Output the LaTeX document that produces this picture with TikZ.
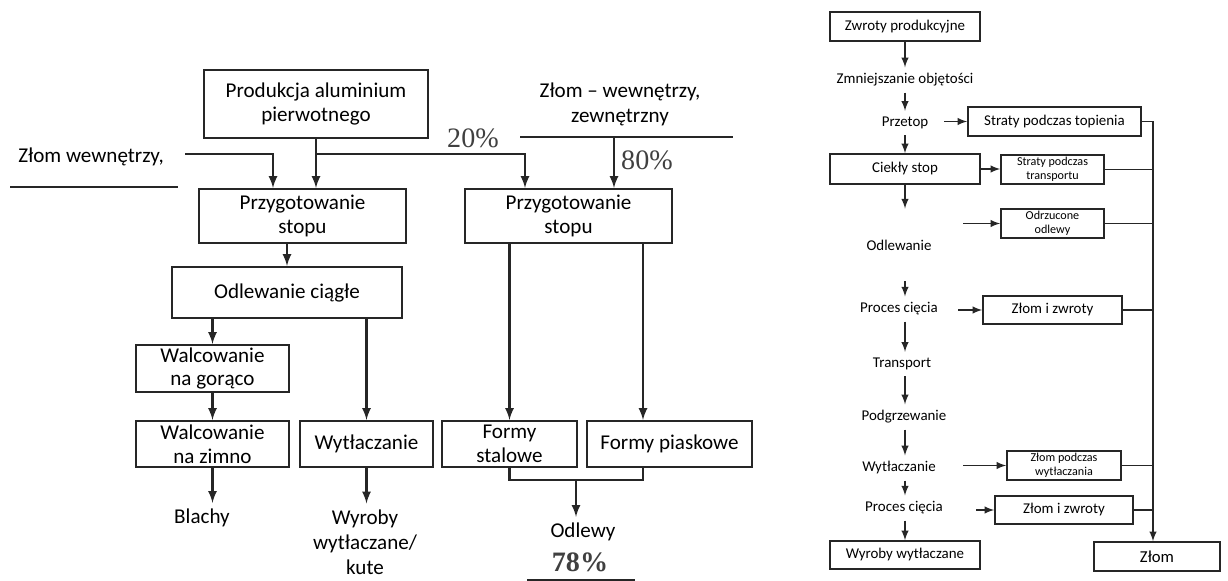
\documentclass[tikz,border=0pt]{standalone}
\usepackage{fontspec}
\setmainfont{Carlito}
\newfontfamily\pctfont{Liberation Serif}
\usepackage{tikz}
\usetikzlibrary{arrows}
\tikzstyle{bigbox} = [rectangle, draw=black!85, line width=1.2pt, text centered, align=center, inner sep=1pt, font=\fontsize{12}{13.6}\selectfont]
\tikzstyle{bigtext} = [align=center, font=\fontsize{12}{14.2}\selectfont]
\tikzstyle{pct} = [text=black!75, font=\pctfont\fontsize{16}{18}\selectfont]
\tikzstyle{arrow} = [line width=1.3pt, draw=black!85, ->, >=latex]
\tikzstyle{wire} = [line width=1.3pt, draw=black!85]
\tikzstyle{smallbox} = [rectangle, draw=black!85, line width=0.9pt, text centered, align=center, inner sep=1pt, font=\fontsize{8.5}{10}\selectfont]
\tikzstyle{tinybox} = [smallbox, font=\fontsize{6.9}{8}\selectfont]
\tikzstyle{smalltext} = [font=\fontsize{8.5}{10}\selectfont]
\tikzstyle{arrow2} = [line width=0.9pt, draw=black!85, ->, >=latex]
\tikzstyle{wire2} = [line width=0.9pt, draw=black!85]
\begin{document}
\begin{tikzpicture}[x=0.02cm, y=-0.02cm]
\useasboundingbox (0,0) rectangle (1228,581);

% left diagram
\node (prod) [bigbox, minimum width=4.48cm, minimum height=1.36cm] at (316,104) {Produkcja aluminium\\pierwotnego};
\node (prz1) [bigbox, minimum width=4.14cm, minimum height=1.08cm] at (302.5,216) {Przygotowanie\\stopu};
\node (prz2) [bigbox, minimum width=4.14cm, minimum height=1.08cm] at (568.5,216) {Przygotowanie\\stopu};
\node (odl) [bigbox, minimum width=4.6cm, minimum height=1.02cm] at (287,292.5) {Odlewanie ciągłe};
\node (wgor) [bigbox, minimum width=3.06cm, minimum height=0.94cm] at (212.5,368.5) {Walcowanie\\na gorąco};
\node (wzim) [bigbox, minimum width=3.06cm, minimum height=0.92cm] at (212.5,444) {Walcowanie\\na zimno};
\node (wyt) [bigbox, minimum width=2.66cm, minimum height=0.92cm] at (366.5,444) {Wytłaczanie};
\node (fst) [bigbox, minimum width=2.70cm, minimum height=0.92cm] at (509.5,444) {Formy\\stalowe};
\node (fpi) [bigbox, minimum width=3.30cm, minimum height=0.92cm] at (669.5,444) {Formy piaskowe};

\node (zlw) [bigtext] at (91,157) {Złom wewnętrzy,};
\node (zlwz) [bigtext] at (620,104) {Złom -- wewnętrzy,\\zewnętrzny};
\node (p20) [pct] at (473,138) {20\%};
\node (p80) [pct] at (647,160) {80\%};
\node (blachy) [bigtext] at (202,518) {Blachy};
\node (wyr) [bigtext] at (365,542) {Wyroby\\wytłaczane/\\kute};
\node (odlewy) [bigtext] at (583,532) {Odlewy};
\node (p78) [pct, font=\pctfont\bfseries\fontsize{16}{18}\selectfont] at (580,562) {78\%};

\coordinate (zlwin) at (185,154);
\coordinate (zlc) at (273,154);
\coordinate (br20) at (525,154);
\coordinate (zl80) at (614,137);
\coordinate (fpc) at (643,480);
\coordinate (mrg) at (576,480);

\draw [wire] (10,187) -- (178,187);
\draw [wire] (520,137) -- (733,137);
\draw [wire] (527,580) -- (635,580);

\draw [arrow] (zlwin) -- (zlc) -- (zlc |- prz1.north);
\draw [arrow] (prod.south) -- (prod.south |- prz1.north);
\draw [arrow] (prod.south |- br20) -- (br20) -- (br20 |- prz2.north);
\draw [arrow] (zl80) -- (zl80 |- prz2.north);
\draw [arrow] (odl.north |- prz1.south) -- (odl.north);
\draw [arrow] (odl.south -| wgor.north) -- (wgor.north);
\draw [arrow] (wgor) -- (wzim);
\draw [arrow] (odl.south -| wyt.north) -- (wyt.north);
\draw [arrow] (prz2.south -| fst.north) -- (fst.north);
\draw [arrow] (prz2.south -| fpc) -- (fpc |- fpi.north);
\draw [wire] (fst.south) -- (fst.south |- fpc) -- (fpc) -- (fpc |- fpi.south);
\draw [arrow] (mrg) -- (mrg |- odlewy.north);
\draw [arrow] (wzim.south) -- (wzim.south |- blachy.north);
\draw [arrow] (wyt.south) -- (wyt.south |- wyr.north);

% right diagram
\node (zw) [smallbox, minimum width=3.0cm, minimum height=0.58cm] at (905,26.5) {Zwroty produkcyjne};
\node (zmn) [smalltext] at (905,80) {Zmniejszanie objętości};
\node (prt) [smalltext] at (905,123) {Przetop};
\node (stt) [smallbox, minimum width=3.46cm, minimum height=0.58cm] at (1054.5,121.5) {Straty podczas topienia};
\node (cs) [smallbox, minimum width=3.0cm, minimum height=0.60cm] at (905,169) {Ciekły stop};
\node (stp) [tinybox, minimum width=2.06cm, minimum height=0.58cm] at (1052.5,169.5) {Straty podczas\\transportu};
\node (odw) [smalltext] at (899,245) {Odlewanie};
\node (odr) [tinybox, minimum width=2.06cm, minimum height=0.58cm] at (1052.5,223.5) {Odrzucone\\odlewy};
\node (pc1) [smalltext] at (899,309) {Proces cięcia};
\node (zz1) [smallbox, minimum width=2.78cm, minimum height=0.56cm] at (1052.5,310) {Złom i zwroty};
\node (trn) [smalltext] at (902,364) {Transport};
\node (pgr) [smalltext] at (904,417) {Podgrzewanie};
\node (wtl) [smalltext] at (899,468) {Wytłaczanie};
\node (zpw) [tinybox, minimum width=2.28cm, minimum height=0.58cm] at (1064,465.5) {Złom podczas\\wytłaczania};
\node (pc2) [smalltext] at (904,508) {Proces cięcia};
\node (zz2) [smallbox, minimum width=2.76cm, minimum height=0.56cm] at (1064,510) {Złom i zwroty};
\node (wwy) [smallbox, minimum width=3.0cm, minimum height=0.56cm] at (905,555) {Wyroby wytłaczane};
\node (zlom) [smallbox, minimum width=2.52cm, minimum height=0.58cm, font=\fontsize{9.5}{11}\selectfont] at (1157,556.5) {Złom};

\coordinate (bus) at (1153,121.5);

\draw [arrow2] (zw.south) -- (zw.south |- zmn.north);
\draw [arrow2] (zw.south |- zmn.south) -- (zw.south |- prt.north);
\draw [arrow2] (zw.south |- prt.south) -- (cs.north);
\draw [arrow2, shorten >=0.5cm] (cs.south) -- (cs.south |- odw.north);
\draw [arrow2, shorten <=0.5cm] (zw.south |- odw.south) -- (zw.south |- pc1.north);
\draw [arrow2] (zw.south |- pc1.south) -- (zw.south |- trn.north);
\draw [arrow2] (zw.south |- trn.south) -- (zw.south |- pgr.north);
\draw [arrow2] (zw.south |- pgr.south) -- (zw.south |- wtl.north);
\draw [arrow2] (zw.south |- wtl.south) -- (zw.south |- pc2.north);
\draw [arrow2] (zw.south |- pc2.south) -- (wwy.north);

\draw [arrow2] ([xshift=-0.46cm]stt.west) -- (stt.west);
\draw [arrow2] (cs.east) -- (cs.east -| stp.west);
\draw [arrow2] ([xshift=-0.74cm]odr.west) -- (odr.west);
\draw [arrow2] ([xshift=-0.48cm]zz1.west) -- (zz1.west);
\draw [arrow2] ([xshift=-0.86cm]zpw.west) -- (zpw.west);
\draw [arrow2] ([xshift=-0.36cm]zz2.west) -- (zz2.west);

\draw [wire2] (stt.east) -- (stt.east -| bus);
\draw [wire2] (stp.east) -- (stp.east -| bus);
\draw [wire2] (odr.east) -- (odr.east -| bus);
\draw [wire2] (zz1.east) -- (zz1.east -| bus);
\draw [wire2] (zpw.east) -- (zpw.east -| bus);
\draw [wire2] (zz2.east) -- (zz2.east -| bus);
\draw [arrow2] (bus) -- (bus |- zlom.north);
\end{tikzpicture}
\end{document}
